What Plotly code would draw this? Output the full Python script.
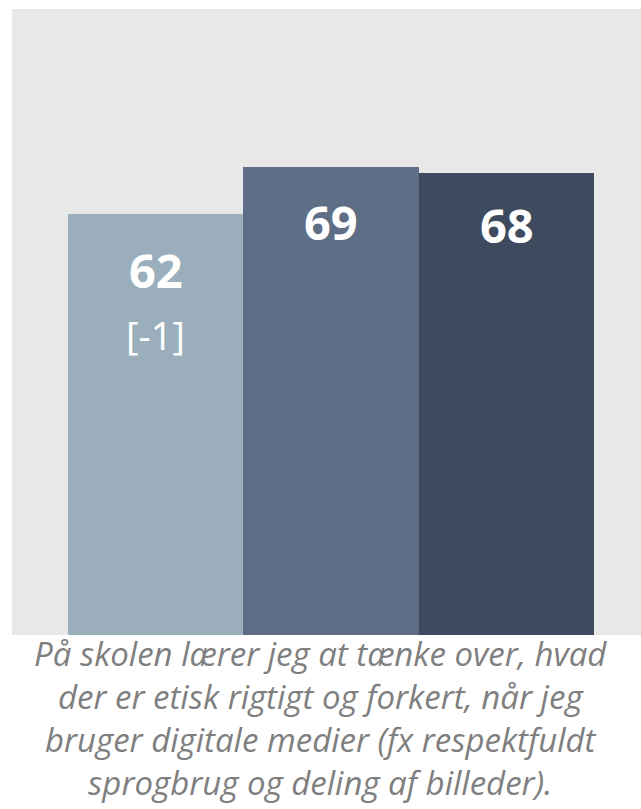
import plotly.graph_objects as go

# Survey result: share (%) agreeing, three groups
groups = ["Gruppe 1", "Gruppe 2", "Gruppe 3"]
values = [62, 69, 68]
changes = ["[-1]", "", ""]
bar_colors = ["#9aafbb", "#5f6e87", "#3e4a5e"]
caption_lines = [
    "På skolen lærer jeg at tænke over, hvad",
    "der er etisk rigtigt og forkert, når jeg",
    "bruger digitale medier (fx respektfuldt",
    "sprogbrug og deling af billeder).",
]

# vertical offset (px) of each value label below its bar top
label_offsets = [-22, -21, -18]

xpos = list(range(len(groups)))

fig = go.Figure(
    go.Bar(
        x=xpos,
        y=values,
        width=1.0,
        marker=dict(color=bar_colors, line=dict(width=0)),
        hoverinfo="skip",
    )
)

# value labels inside the top of each bar
for i, v in enumerate(values):
    fig.add_annotation(
        x=i, y=v, xref="x", yref="y",
        text=f"<b>{v}</b>", showarrow=False,
        yanchor="top", yshift=label_offsets[i],
        font=dict(family="Open Sans", size=47, color="white"),
    )
    if changes[i]:
        fig.add_annotation(
            x=i, y=v, xref="x", yref="y",
            text=changes[i], showarrow=False,
            yanchor="top", yshift=-93,
            font=dict(family="Open Sans", size=38, color="white"),
        )

fig.add_annotation(
    x=0.49, y=0, xref="paper", yref="paper",
    xanchor="center", yanchor="top", yshift=6,
    text="<i>" + "<br>".join(caption_lines) + "</i>",
    showarrow=False, align="center",
    font=dict(family="Open Sans", size=33, color="#7f7f7f"),
)

fig.update_layout(
    width=641, height=809,
    margin=dict(l=12, r=0, t=9, b=174),
    paper_bgcolor="white",
    plot_bgcolor="#e8e8e8",
    showlegend=False,
    bargap=0,
    xaxis=dict(range=[-0.818, 2.766], visible=False, fixedrange=True),
    yaxis=dict(range=[0, 92.2], visible=False, fixedrange=True),
)

fig.write_html("out.html")
